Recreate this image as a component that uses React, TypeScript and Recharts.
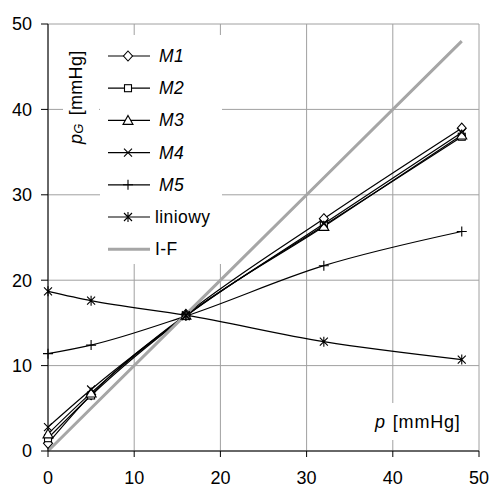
import React from 'react'
import {
  LineChart,
  Line,
  XAxis,
  YAxis,
  CartesianGrid,
} from 'recharts'

const FONT = '"Liberation Sans", Arial, sans-serif'

// pressure p [mmHg]
const pressures = [0, 5, 16, 32, 48]
const m1 = [0.9, 6.6, 16.0, 27.2, 37.8]
const m2 = [1.5, 6.5, 15.8, 26.4, 36.8]
const m3 = [2.0, 6.8, 15.9, 26.3, 37.0]
const m4 = [2.8, 7.2, 15.8, 26.6, 37.3]
const m5 = [11.4, 12.4, 15.8, 21.7, 25.7]
const liniowy = [18.7, 17.6, 15.9, 12.8, 10.7]
const iF = [0, 5, 16, 32, 48]
const axisTicks = [0, 10, 20, 30, 40, 50]

const rows = pressures.map((p, i) => ({
  p,
  m1: m1[i],
  m2: m2[i],
  m3: m3[i],
  m4: m4[i],
  m5: m5[i],
  liniowy: liniowy[i],
  iF: iF[i],
}))

type Shape = 'diamond' | 'square' | 'triangle' | 'cross' | 'plus' | 'star' | 'none'

function Marker({ shape, cx, cy }: { shape: Shape; cx: number; cy: number }) {
  const s = { stroke: '#000', strokeWidth: 1.1, fill: '#fff' }
  switch (shape) {
    case 'diamond':
      return <path d={`M${cx},${cy - 5}L${cx + 4.5},${cy}L${cx},${cy + 5}L${cx - 4.5},${cy}Z`} {...s} />
    case 'square':
      return <rect x={cx - 3.5} y={cy - 3.5} width={7} height={7} {...s} />
    case 'triangle':
      return <path d={`M${cx},${cy - 5}L${cx + 5},${cy + 4}L${cx - 5},${cy + 4}Z`} {...s} />
    case 'cross':
      return <path d={`M${cx - 4},${cy - 4}L${cx + 4},${cy + 4}M${cx - 4},${cy + 4}L${cx + 4},${cy - 4}`} {...s} />
    case 'plus':
      return <path d={`M${cx - 5},${cy}L${cx + 5},${cy}M${cx},${cy - 5}L${cx},${cy + 5}`} {...s} />
    case 'star':
      return (
        <path
          d={`M${cx - 4},${cy - 4}L${cx + 4},${cy + 4}M${cx - 4},${cy + 4}L${cx + 4},${cy - 4}M${cx},${cy - 5}L${cx},${cy + 5}`}
          {...s}
        />
      )
    default:
      return null
  }
}

const dotFor = (shape: Shape) => (props: any) => (
  <Marker key={`${shape}-${props.index}`} shape={shape} cx={props.cx} cy={props.cy} />
)

const legendItems: { label: string; shape: Shape; italic: boolean }[] = [
  { label: 'M1', shape: 'diamond', italic: true },
  { label: 'M2', shape: 'square', italic: true },
  { label: 'M3', shape: 'triangle', italic: true },
  { label: 'M4', shape: 'cross', italic: true },
  { label: 'M5', shape: 'plus', italic: true },
  { label: 'liniowy', shape: 'star', italic: false },
  { label: 'I-F', shape: 'none', italic: false },
]

// legend box drawn inside the plot, top-left
function LegendBox({ x, y }: { x: number; y: number }) {
  return (
    <g transform={`translate(${x}, ${y})`}>
      <rect x={0} y={0} width={122} height={229} fill="#fff" />
      {legendItems.map((item, i) => {
        const ry = 21 + i * 32.2
        const isIF = item.label === 'I-F'
        return (
          <g key={item.label}>
            <line
              x1={8}
              x2={50}
              y1={ry}
              y2={ry}
              stroke={isIF ? '#a6a6a6' : '#000'}
              strokeWidth={isIF ? 3 : 1.2}
            />
            <Marker shape={item.shape} cx={28} cy={ry} />
            <text
              x={item.italic ? 59 : 55}
              y={ry + 6}
              fontFamily={FONT}
              fontSize={17.5}
              letterSpacing={0.4}
              fontStyle={item.italic ? 'italic' : 'normal'}
              fill="#000"
            >
              {item.label}
            </text>
          </g>
        )
      })}
    </g>
  )
}

export default function App() {
  return (
    <div style={{ position: 'absolute', left: 0, top: 0, background: '#fff' }}>
      <LineChart
        width={491}
        height={487}
        data={rows}
        margin={{ top: 24, right: 12, bottom: 0, left: 0 }}
        style={{ fontFamily: FONT }}
      >
        <CartesianGrid stroke="#a0a0a0" strokeWidth={1} />
        <XAxis
          dataKey="p"
          type="number"
          domain={[0, 50]}
          ticks={axisTicks}
          height={36}
          tickSize={6}
          tickMargin={14}
          stroke="#000"
          tick={{ fill: '#000', fontSize: 18 }}
        />
        <YAxis
          type="number"
          domain={[0, 50]}
          ticks={axisTicks}
          width={48}
          tickSize={7}
          tickMargin={9}
          stroke="#000"
          tick={{ fill: '#000', fontSize: 18 }}
        />
        <g>
          <rect x={63} y={46} width={36} height={104} fill="#fff" />
          <text
            x={82}
            y={144}
            transform="rotate(-90, 82, 144)"
            fontFamily={FONT}
            fontSize={18}
            letterSpacing={0.3}
            fill="#000"
          >
            <tspan fontStyle="italic">p</tspan>
            <tspan fontStyle="italic" fontSize={13} dy={1}>G</tspan>
            <tspan dy={-1} dx={8}>[mmHg]</tspan>
          </text>
        </g>
        <g>
          <rect x={368} y={403} width={102} height={37} fill="#fff" />
          <text x={375} y={428} fontFamily={FONT} fontSize={18} letterSpacing={0.8} fill="#000">
            <tspan fontStyle="italic">p</tspan>
            <tspan dx={7}>[mmHg]</tspan>
          </text>
        </g>
        <LegendBox x={100} y={35} />
        <Line type="monotone" dataKey="m1" stroke="#000" strokeWidth={1.2} dot={dotFor('diamond')} isAnimationActive={false} />
        <Line type="monotone" dataKey="m2" stroke="#000" strokeWidth={1.2} dot={dotFor('square')} isAnimationActive={false} />
        <Line type="monotone" dataKey="m3" stroke="#000" strokeWidth={1.2} dot={dotFor('triangle')} isAnimationActive={false} />
        <Line type="monotone" dataKey="m4" stroke="#000" strokeWidth={1.2} dot={dotFor('cross')} isAnimationActive={false} />
        <Line type="monotone" dataKey="m5" stroke="#000" strokeWidth={1.2} dot={dotFor('plus')} isAnimationActive={false} />
        <Line type="monotone" dataKey="liniowy" stroke="#000" strokeWidth={1.2} dot={dotFor('star')} isAnimationActive={false} />
        <Line type="linear" dataKey="iF" stroke="#a6a6a6" strokeWidth={3} dot={false} isAnimationActive={false} />
      </LineChart>
    </div>
  )
}
